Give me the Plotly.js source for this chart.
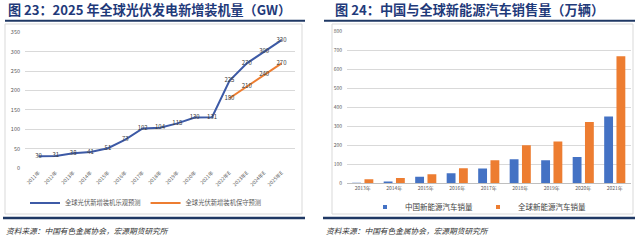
<!DOCTYPE html>
<html>
<head>
<meta charset="utf-8">
<script src="https://cdn.plot.ly/plotly-3.0.1.min.js"></script>
<style>html,body{margin:0;padding:0;background:#fff;}#chart{width:640px;height:241px;}</style>
</head>
<body>
<div id="chart"></div>
<script>
// ---- Chart 23: global PV new installations (GW) ----
const pvYears = ['2011年','2012年','2013年','2014年','2015年','2016年','2017年','2018年','2019年','2020年','2021年','2022年E','2023年E','2024年E','2025年E'];
const pvOptimistic = [30, 31, 38, 41, 51, 73, 102, 104, 115, 130, 131, 225, 270, 300, 330];
const pvConsYears = ['2022年E','2023年E','2024年E','2025年E'];
const pvConservative = [180, 210, 240, 270];
const pvNames = ['全球光伏新增装机乐观预测', '全球光伏新增装机保守预测'];

// ---- Chart 24: NEV sales (10k units) ----
const evYears = ['2013年','2014年','2015年','2016年','2017年','2018年','2019年','2020年','2021年'];
const evChina = [1.8, 7.5, 33, 51, 77, 125, 120, 137, 352];
const evGlobal = [20, 27, 46, 78, 120, 200, 220, 323, 670];
const evNames = ['中国新能源汽车销量', '全球新能源汽车销量'];

const W = 640, H = 241;
const px = v => v / W;
const py = v => 1 - v / H;

const FONT = '"Noto Sans CJK SC", "Noto Sans", sans-serif';
const BLUE_LINE = '#3D5AA6';
const ORANGE = '#ED7D31';
const BLUE_BAR = '#4472C4';
const NAVY = '#1F3864';
const GRID = '#D9D9D9';
const TICK = '#595959';

const traces = [
  {
    type: 'scatter', mode: 'lines+text', name: pvNames[0],
    x: pvYears, y: pvOptimistic, xaxis: 'x', yaxis: 'y',
    text: pvOptimistic.map(String), textposition: 'middle center',
    textfont: {family: FONT, size: 6, color: '#404040'},
    line: {color: BLUE_LINE, width: 2}, cliponaxis: false, legend: 'legend'
  },
  {
    type: 'scatter', mode: 'lines+text', name: pvNames[1],
    x: pvConsYears, y: pvConservative, xaxis: 'x', yaxis: 'y',
    text: pvConservative.map(String), textposition: 'middle center',
    textfont: {family: FONT, size: 6, color: '#404040'},
    line: {color: ORANGE, width: 2}, cliponaxis: false, legend: 'legend'
  },
  {
    type: 'bar', name: evNames[0], x: evYears, y: evChina, xaxis: 'x2', yaxis: 'y2',
    marker: {color: BLUE_BAR}, showlegend: false
  },
  {
    type: 'bar', name: evNames[1], x: evYears, y: evGlobal, xaxis: 'x2', yaxis: 'y2',
    marker: {color: ORANGE}, showlegend: false
  },
  // legend entries with small square symbols
  {
    type: 'scatter', mode: 'markers', name: evNames[0], x: [null], y: [null], xaxis: 'x2', yaxis: 'y2',
    marker: {symbol: 'square', size: 4, color: BLUE_BAR}, legend: 'legend2', hoverinfo: 'skip'
  },
  {
    type: 'scatter', mode: 'markers', name: evNames[1], x: [null], y: [null], xaxis: 'x2', yaxis: 'y2',
    marker: {symbol: 'square', size: 4, color: ORANGE}, legend: 'legend2', hoverinfo: 'skip'
  }
];

const layout = {
  width: W, height: H, autosize: false,
  margin: {l: 0, r: 0, t: 0, b: 0, pad: 0},
  paper_bgcolor: '#fff', plot_bgcolor: '#fff',
  font: {family: FONT, size: 6, color: TICK},
  showlegend: true,
  barmode: 'group', bargap: 0.22, bargroupgap: 0.28,
  xaxis: {
    domain: [px(25), px(295)], anchor: 'y', type: 'category',
    showgrid: false, zeroline: false, showline: false, ticks: '',
    tickangle: -45, tickfont: {family: FONT, size: 5, color: TICK},
    fixedrange: true
  },
  yaxis: {
    domain: [py(168), py(32.3)], anchor: 'x', range: [0, 350], dtick: 50,
    showgrid: true, gridcolor: GRID, gridwidth: 1, zeroline: false, showline: false,
    ticks: '', ticklabelstandoff: 4, tickfont: {family: FONT, size: 5.5, color: TICK},
    fixedrange: true
  },
  xaxis2: {
    domain: [px(347), px(630.5)], anchor: 'y2', type: 'category',
    showgrid: false, zeroline: false, showline: true, linecolor: '#BFBFBF', linewidth: 1, ticks: '',
    tickangle: 0, tickfont: {family: FONT, size: 5, color: TICK},
    fixedrange: true
  },
  yaxis2: {
    domain: [py(183), py(31.7)], anchor: 'x2', range: [0, 800], dtick: 100,
    showgrid: true, gridcolor: GRID, gridwidth: 1, zeroline: false, showline: false,
    ticks: '', ticklabelstandoff: 4, tickfont: {family: FONT, size: 5, color: TICK},
    fixedrange: true
  },
  legend: {
    orientation: 'h', x: px(146), xanchor: 'center', y: py(203), yanchor: 'middle',
    bgcolor: 'rgba(0,0,0,0)', font: {family: FONT, size: 6.3, color: TICK},
    itemwidth: 30, tracegroupgap: 0
  },
  legend2: {
    orientation: 'h', x: px(478), xanchor: 'center', y: py(207), yanchor: 'middle',
    bgcolor: 'rgba(0,0,0,0)', font: {family: FONT, size: 7.5, color: '#404040'},
    itemwidth: 30
  },
  shapes: [
    // title underlines
    {type: 'line', xref: 'paper', yref: 'paper', x0: px(5), x1: px(305), y0: py(20.7), y1: py(20.7), line: {color: NAVY, width: 2}},
    {type: 'line', xref: 'paper', yref: 'paper', x0: px(324), x1: px(635), y0: py(20.7), y1: py(20.7), line: {color: NAVY, width: 2}},
    // chart frames
    {type: 'rect', xref: 'paper', yref: 'paper', x0: px(5), x1: px(302), y0: py(24), y1: py(214), line: {color: GRID, width: 1}},
    {type: 'rect', xref: 'paper', yref: 'paper', x0: px(332), x1: px(633), y0: py(24), y1: py(214), line: {color: GRID, width: 1}},
    // bottom rules
    {type: 'line', xref: 'paper', yref: 'paper', x0: px(3), x1: px(305), y0: py(218), y1: py(218), line: {color: NAVY, width: 2.5}},
    {type: 'line', xref: 'paper', yref: 'paper', x0: px(323), x1: px(635), y0: py(218), y1: py(218), line: {color: NAVY, width: 2.5}}
  ],
  annotations: [
    {xref: 'paper', yref: 'paper', x: px(6), y: py(10), xanchor: 'left', yanchor: 'middle', showarrow: false,
     text: '<b>图 23：2025 年全球光伏发电新增装机量（GW）</b>', font: {family: FONT, size: 13.1, color: '#1F3A7A'}},
    {xref: 'paper', yref: 'paper', x: px(333), y: py(10), xanchor: 'left', yanchor: 'middle', showarrow: false,
     text: '<b>图 24：中国与全球新能源汽车销售量（万辆）</b>', font: {family: FONT, size: 13.2, color: '#1F3A7A'}},
    {xref: 'paper', yref: 'paper', x: px(4), y: py(230), xanchor: 'left', yanchor: 'middle', showarrow: false,
     text: '<i>资料来源：中国有色金属协会，宏源期货研究所</i>', font: {family: FONT, size: 7.7, color: '#333'}},
    {xref: 'paper', yref: 'paper', x: px(324), y: py(230), xanchor: 'left', yanchor: 'middle', showarrow: false,
     text: '<i>资料来源：中国有色金属协会，宏源期货研究所</i>', font: {family: FONT, size: 7.7, color: '#333'}}
  ]
};

Plotly.newPlot('chart', traces, layout, {displayModeBar: false, staticPlot: true});
</script>
</body>
</html>
